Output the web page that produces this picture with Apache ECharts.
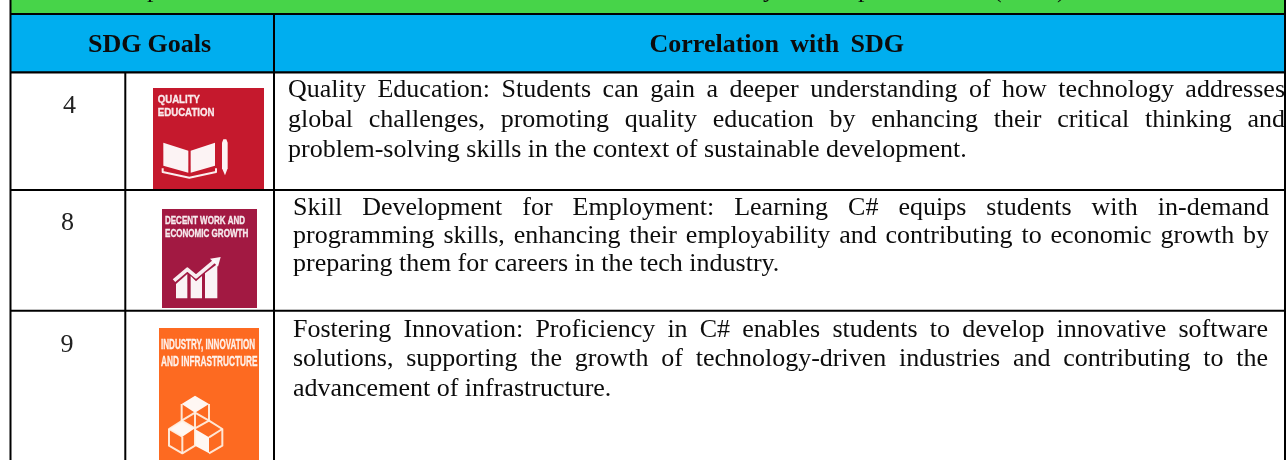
<!DOCTYPE html>
<html>
<head>
<meta charset="utf-8">
<style>html,body{margin:0;padding:0;background:#fff}#c{width:1287px;height:460px;filter:blur(0.3px)}</style>
<script src="https://cdn.jsdelivr.net/npm/echarts@6/dist/echarts.min.js"></script>
</head>
<body>
<div id="c"></div>
<script>
// ---- table content ----
const headers = ['SDG Goals', 'Correlation with SDG'];
const goalNumbers = ['4', '8', '9'];
const row1Lines = [
  'Quality Education: Students can gain a deeper understanding of how technology addresses',
  'global challenges, promoting quality education by enhancing their critical thinking and',
  'problem-solving skills in the context of sustainable development.'
];
const row2Lines = [
  'Skill Development for Employment: Learning C# equips students with in-demand',
  'programming skills, enhancing their employability and contributing to economic growth by',
  'preparing them for careers in the tech industry.'
];
const row3Lines = [
  'Fostering Innovation: Proficiency in C# enables students to develop innovative software',
  'solutions, supporting the growth of technology-driven industries and contributing to the',
  'advancement of infrastructure.'
];
const iconTitles = [
  ['QUALITY', 'EDUCATION'],
  ['DECENT WORK AND', 'ECONOMIC GROWTH'],
  ['INDUSTRY, INNOVATION', 'AND INFRASTRUCTURE']
];
const captionFragments = ['p', 'y', 'p', '(', ')'];

// ---- layout ----
const SERIF = '"Liberation Serif","Times New Roman",serif';
const SANS = '"Liberation Sans",Arial,sans-serif';
const INK = '#0c0c0c', LINE = '#000000';
const GREEN = '#47D449', BLUE = '#00AEEF';
const BODY = 26;
const mc = document.createElement('canvas').getContext('2d');
function widthOf(t, font) { mc.font = font; return mc.measureText(t).width; }

const els = [];
function rect(x, y, w, h, fill) {
  els.push({type: 'rect', silent: true, shape: {x, y, width: w, height: h}, style: {fill}});
}
function text(t, x, base, size, opt) {
  opt = opt || {};
  const weight = opt.bold ? 'bold ' : '';
  const style = {text: t, x: 0, y: 0, font: weight + size + 'px ' + (opt.family || SERIF),
    fill: opt.fill || INK, align: opt.align || 'left', verticalAlign: 'middle', opacity: opt.opacity == null ? 1 : opt.opacity};
  if (opt.stroke) { style.stroke = opt.fill; style.lineWidth = opt.stroke; }
  els.push({type: 'text', silent: true, x, y: base - 0.3 * size, scaleX: opt.scaleX || 1, style});
}
function justified(line, left, right, base, size, bold) {
  const font = (bold ? 'bold ' : '') + size + 'px ' + SERIF;
  const words = line.split(' ');
  const ws = words.map(w => widthOf(w, font));
  const total = ws.reduce((a, b) => a + b, 0);
  const gap = right == null ? widthOf(' ', font) : (right - left - total) / (words.length - 1);
  let x = left;
  words.forEach((w, i) => { text(w, x, base, size, {bold}); x += ws[i] + gap; });
}
function fitted(t, left, right, capTop, capBottom) {
  const size = (capBottom - capTop) / 0.72;
  const font = 'bold ' + size + 'px ' + SANS;
  text(t, left, capBottom - 0.4, size, {bold: true, family: SANS, fill: '#fff', opacity: 0.88, stroke: 0.35,
    scaleX: (right - left) / widthOf(t, font)});
}
function poly(pts, fill) {
  els.push({type: 'polygon', silent: true, shape: {points: pts}, style: {fill: fill || '#fff', opacity: 0.95}});
}
function path(pts, w, color) {
  els.push({type: 'polyline', silent: true, shape: {points: pts},
    style: {stroke: color || '#fff', lineWidth: w, fill: 'none', lineJoin: 'round', opacity: 0.92}});
}
// zoom-space helper
const Z = (ox, oy, a) => a.map(p => [ox + p[0] / 3, oy + p[1] / 3]);

// ---- fills ----
rect(10, 0, 1275, 14, GREEN);
rect(10, 14, 1275, 58, BLUE);

// ---- clipped caption above the table ----
[[147, 0], [763, 1], [858, 2], [993, 3], [1057, 4]].forEach(a => text(captionFragments[a[1]], a[0], -2.3, BODY));

// ---- headers ----
justified(headers[0], 88, 211, 53, BODY, true);
justified(headers[1], 649.5, 904, 53, BODY, true);

// ---- goal numbers ----
text(goalNumbers[0], 69.5, 114, BODY, {align: 'center', fill: '#222'});
text(goalNumbers[1], 67.5, 231, BODY, {align: 'center', fill: '#222'});
text(goalNumbers[2], 67, 353, BODY, {align: 'center', fill: '#222'});

// ---- correlation text ----
const rows = [
  {lines: row1Lines, left: 288, right: 1285, base: [97.7, 127.7, 157.7]},
  {lines: row2Lines, left: 293, right: 1269, base: [216, 244, 272]},
  {lines: row3Lines, left: 293, right: 1268, base: [338, 367, 397]}
];
rows.forEach(r => r.lines.forEach((l, i) => justified(l, r.left, i < 2 ? r.right : null, r.base[i], BODY, false)));

// ---- icon 4 ----
rect(153, 88, 111, 102, '#C5192D');
fitted(iconTitles[0][0], 157.7, 200, 95.5, 103.8);
fitted(iconTitles[0][1], 157.7, 214.5, 108.5, 117);
poly(Z(0, 0, [[490, 428], [565, 452], [565, 518], [490, 497]]));
poly(Z(0, 0, [[572, 452], [645, 428], [645, 497], [572, 518]]));
path(Z(0, 0, [[488, 505], [488, 516], [568, 533], [648, 516], [648, 505]]), 2);
poly(Z(0, 0, [[666, 428], [670, 418], [679, 418], [683, 428], [683, 505], [675, 526], [666, 505]]));

// ---- icon 8 ----
rect(162, 209, 95, 99, '#A21942');
fitted(iconTitles[1][0], 165, 245, 216.8, 224.5);
fitted(iconTitles[1][1], 165, 248.3, 229.5, 237.7);
poly(Z(130, 190, [[138, 325], [138, 282], [172, 252], [172, 325]]));
poly(Z(130, 190, [[182, 325], [182, 258], [198, 274], [216, 258], [216, 325]]));
poly(Z(130, 190, [[225, 325], [225, 250], [262, 222], [262, 325]]));
path(Z(130, 190, [[132, 272], [172, 238], [198, 260], [255, 212]]), 3.8);
poly(Z(130, 190, [[240, 206], [272, 201], [264, 230]]));

// ---- icon 9 ----
rect(159, 328, 100, 132, '#FD6A21');
fitted(iconTitles[2][0], 161, 255, 339.5, 349.5);
fitted(iconTitles[2][1], 161, 257.5, 356, 367);
const C = a => Z(0, 300, a);
poly(C([[585, 287], [627, 312], [585, 338], [545, 312]]));
poly(C([[547, 362], [585, 385], [547, 410], [507, 387]]));
poly(C([[585, 387], [627, 412], [627, 460], [585, 437]]));
[[[545, 312], [545, 362], [585, 385], [627, 362], [627, 312]],
 [[585, 338], [585, 385]],
 [[545, 362], [585, 338], [627, 362]],
 [[507, 387], [507, 437], [547, 460], [585, 437], [585, 387]],
 [[547, 410], [547, 460]],
 [[627, 362], [667, 387], [667, 437], [627, 460]],
 [[667, 387], [627, 412]],
 [[547, 410], [507, 387], [547, 362]]
].forEach(s => path(C(s), 2, '#FFF1E4'));

// ---- rules ----
[[13], [71.3], [189], [309.7]].forEach(a => rect(10, a[0], 1275.5, 2.1, LINE));
rect(9.5, 0, 2, 460, LINE);
rect(1284, 0, 2, 460, LINE);
rect(124.3, 72, 2, 388, LINE);
rect(273, 14, 2, 446, LINE);

const chart = echarts.init(document.getElementById('c'), null, {renderer: 'canvas', width: 1287, height: 460});
chart.setOption({animation: false, backgroundColor: '#fff', graphic: {elements: els}});
</script>
</body>
</html>
